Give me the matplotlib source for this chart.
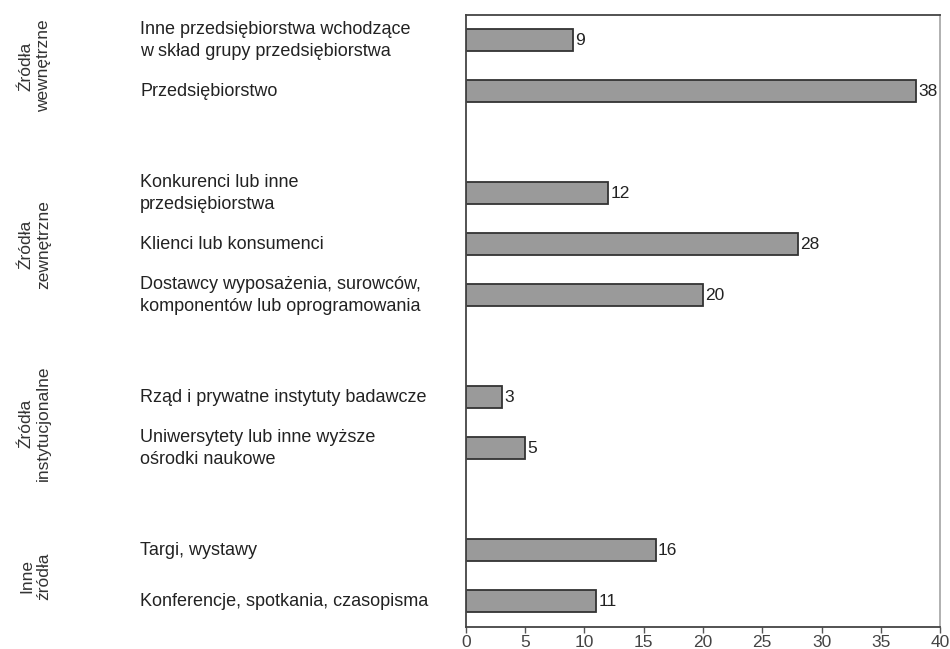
import matplotlib
matplotlib.use("Agg")
import matplotlib.pyplot as plt
from matplotlib.transforms import blended_transform_factory

plt.rcParams['font.family'] = ['Liberation Sans', 'DejaVu Sans']

groups = ["Źródła\nwewnętrzne", "Źródła\nzewnętrzne", "Źródła\ninstytucjonalne", "Inne\nźródła"]
group_items = [
    ["Inne przedsiębiorstwa wchodzące\nw skład grupy przedsiębiorstwa", "Przedsiębiorstwo"],
    ["Konkurenci lub inne\nprzedsiębiorstwa", "Klienci lub konsumenci",
     "Dostawcy wyposażenia, surowców,\nkomponentów lub oprogramowania"],
    ["Rząd i prywatne instytuty badawcze", "Uniwersytety lub inne wyższe\nośrodki naukowe"],
    ["Targi, wystawy", "Konferencje, spotkania, czasopisma"],
]
group_values = [
    [9, 38],
    [12, 28, 20],
    [3, 5],
    [16, 11],
]
xticks = [0, 5, 10, 15, 20, 25, 30, 35, 40]

fig = plt.figure(figsize=(9.5, 6.49), dpi=100)
ax = fig.add_axes([0.4905, 0.034, 0.499, 0.943])

pos = 0
positions, labels, values, group_centers = [], [], [], []
for items, vals in zip(group_items, group_values):
    start = pos
    for it, v in zip(items, vals):
        positions.append(pos)
        labels.append(it)
        values.append(v)
        pos += 1
    group_centers.append((start + pos - 1) / 2)
    pos += 1  # gap between groups

ax.barh(positions, values, height=0.43, color='#9a9a9a', edgecolor='#333333', linewidth=1.3)
for p, v in zip(positions, values):
    ax.text(v + 0.2, p, str(v), va='center', ha='left', fontsize=12.5, color='#222222')

ax.set_xlim(0, 40)
ax.set_ylim(pos - 1 - 0.5, -0.5)
ax.set_xticks(xticks)
ax.set_xticklabels([str(t) for t in xticks], fontsize=12.5, color='#444444')
ax.tick_params(axis='x', length=4, width=1, color='#555555', pad=2)
ax.set_yticks([])
for s in ['left', 'bottom', 'top']:
    ax.spines[s].set_color('#444444')
    ax.spines[s].set_linewidth(1.3)
ax.spines['right'].set_color('#aaaaaa')
ax.spines['right'].set_linewidth(1.3)

tr = blended_transform_factory(fig.transFigure, ax.transData)
for p, lab in zip(positions, labels):
    ax.text(0.1475, p, lab, transform=tr, ha='left', va='center', fontsize=13,
            color='#222222', linespacing=1.4, clip_on=False)
for c, g in zip(group_centers, groups):
    ax.text(0.037, c, g, transform=tr, ha='center', va='center', rotation=90,
            fontsize=12.5, color='#333333', multialignment='center', linespacing=1.2,
            clip_on=False)

fig.savefig("out.png", dpi=100, facecolor='white')
